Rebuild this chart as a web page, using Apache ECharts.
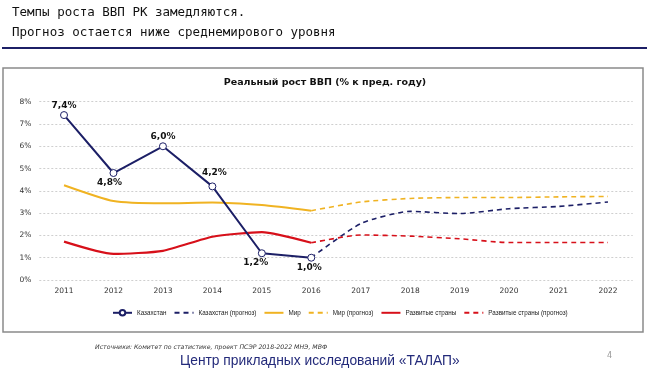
<!DOCTYPE html>
<html>
<head>
<meta charset="utf-8">
<script src="https://cdn.jsdelivr.net/npm/echarts@6/dist/echarts.min.js"></script>
<style>html,body{margin:0;padding:0;background:#fff;}#c{width:650px;height:376px;}</style>
</head>
<body>
<div id="c"></div>
<script>
const years = ['2011','2012','2013','2014','2015','2016','2017','2018','2019','2020','2021','2022'];
const kz        = [7.4, 4.8, 6.0, 4.2, 1.2, 1.0, null, null, null, null, null, null];
const kzFc      = [null, null, null, null, null, 1.0, 2.53, 3.08, 2.98, 3.2, 3.3, 3.5];
const world     = [4.25, 3.54, 3.44, 3.48, 3.36, 3.11, null, null, null, null, null, null];
const worldFc   = [null, null, null, null, null, 3.11, 3.5, 3.66, 3.7, 3.7, 3.73, 3.75];
const dev       = [1.72, 1.17, 1.31, 1.94, 2.15, 1.67, null, null, null, null, null, null];
const devFc     = [null, null, null, null, null, 1.67, 2.02, 1.97, 1.85, 1.68, 1.68, 1.68];
const yTicks = [0, 8, 1];
const names = ['Казахстан','Казахстан (прогноз)','Мир','Мир (прогноз)','Развитые страны','Развитые страны (прогноз)'];
const slideTitle = ['Темпы роста ВВП РК замедляются.', 'Прогноз остается ниже среднемирового уровня'];
const chartTitle = 'Реальный рост ВВП (% к пред. году)';
const sourceText = 'Источники: Комитет по статистике, проект ПСЭР 2018-2022 МНЭ, МВФ';
const footerText = 'Центр прикладных исследований «ТАЛАП»';
const pageNum = '4';

const NAVY = '#1c1f66', YEL = '#f0b322', RED = '#d7101a';
const chart = echarts.init(document.getElementById('c'));
const fmt = v => v.toFixed(1).replace('.', ',') + '%';
const kzPos = ['top','bottom','top','top','bottom','bottom'];
const kzOff = [[0,0],[-4,0],[0,0],[2,-4],[-6,0],[-2,0]];
const noMark = { color: 'rgba(0,0,0,0)', borderColor: 'rgba(0,0,0,0)', borderWidth: 0 };

chart.setOption({
  animation: false,
  textStyle: { fontFamily: 'DejaVu Sans' },
  title: {
    text: chartTitle, left: 'center', top: 73,
    textStyle: { fontSize: 9.5, fontWeight: 'bold', color: '#111', fontFamily: 'DejaVu Sans' }
  },
  grid: { left: 39.3, right: 17.3, top: 101.7, bottom: 96 },
  legend: {
    left: 107, top: 304, itemWidth: 19, itemHeight: 7, itemGap: 7,
    textStyle: { fontSize: 6.3, color: '#222', fontFamily: 'Liberation Sans' },
    data: names.map((n, i) => i === 0 ? { name: n } : { name: n, itemStyle: noMark })
  },
  xAxis: {
    type: 'category', data: years, boundaryGap: true,
    axisLine: { show: false }, axisTick: { show: false },
    axisLabel: { fontSize: 7.5, color: '#333', margin: 7 }
  },
  yAxis: {
    type: 'value', min: yTicks[0], max: yTicks[1], interval: yTicks[2],
    axisLabel: { formatter: '{value}%', fontSize: 7.5, color: '#333', margin: 8 },
    splitLine: { lineStyle: { type: [2, 2], color: '#cfcfcf', width: 1 } }
  },
  series: [
    { name: names[0], type: 'line', data: kz.map((v, i) => v == null ? null : { value: v, label: { position: kzPos[i], offset: kzOff[i] } }),
      lineStyle: { color: NAVY, width: 2 }, itemStyle: { color: '#fff', borderColor: NAVY, borderWidth: 1 },
      symbol: 'circle', symbolSize: 7, z: 5,
      label: { show: true, formatter: p => fmt(p.value), fontSize: 9, fontWeight: 'bold', color: '#111', distance: 1 } },
    { name: names[1], type: 'line', data: kzFc, symbol: 'none', smooth: 0.2,
      lineStyle: { color: NAVY, width: 1.6, type: [5, 4] }, itemStyle: { color: NAVY } },
    { name: names[2], type: 'line', data: world, symbol: 'none', smooth: 0.2,
      lineStyle: { color: YEL, width: 2 }, itemStyle: { color: YEL } },
    { name: names[3], type: 'line', data: worldFc, symbol: 'none', smooth: 0.2,
      lineStyle: { color: YEL, width: 1.6, type: [5, 4] }, itemStyle: { color: YEL } },
    { name: names[4], type: 'line', data: dev, symbol: 'none', smooth: 0.2,
      lineStyle: { color: RED, width: 2.2 }, itemStyle: { color: RED } },
    { name: names[5], type: 'line', data: devFc, symbol: 'none', smooth: 0.2,
      lineStyle: { color: RED, width: 1.6, type: [5, 4] }, itemStyle: { color: RED } }
  ],
  graphic: [
    { type: 'text', left: 12, top: 6, style: { text: slideTitle[0], font: '12.5px "DejaVu Sans Mono"', fill: '#111' } },
    { type: 'text', left: 12, top: 26, style: { text: slideTitle[1], font: '12.5px "DejaVu Sans Mono"', fill: '#111' } },
    { type: 'line', shape: { x1: 2, y1: 48, x2: 647, y2: 48 }, style: { stroke: NAVY, lineWidth: 2 } },
    { type: 'rect', shape: { x: 3, y: 68, width: 640, height: 264 }, style: { fill: 'none', stroke: '#8a8a8a', lineWidth: 1.5 }, z: -1 },
    { type: 'text', left: 95, top: 344, style: { text: sourceText, font: 'italic 6.2px "DejaVu Sans"', fill: '#333' } },
    { type: 'text', x: 180, y: 353, scaleX: 0.92, style: { text: footerText, font: '15px "Liberation Sans"', fill: '#232a7a' } },
    { type: 'text', left: 607, top: 352, style: { text: pageNum, font: '8px "DejaVu Sans"', fill: '#999' } }
  ]
});
</script>
</body>
</html>
